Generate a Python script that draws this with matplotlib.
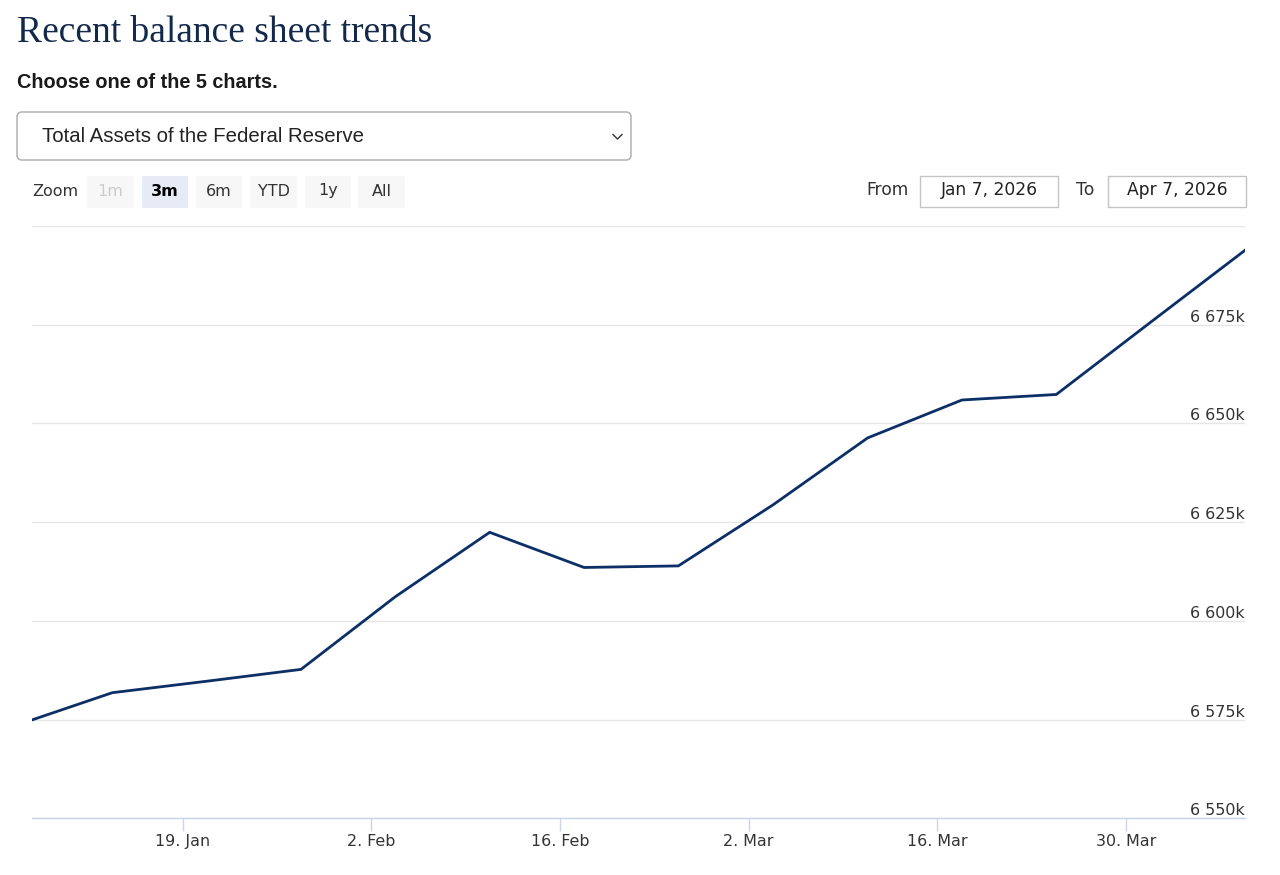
import pandas as pd
import matplotlib
matplotlib.use('Agg')
import matplotlib.pyplot as plt
import matplotlib.dates as mdates
from matplotlib.patches import FancyBboxPatch
from matplotlib.ticker import FuncFormatter

# weekly H.4.1 values, millions of dollars (Wednesday levels)
week_dates = ['2026-01-07', '2026-01-14', '2026-01-21', '2026-01-28',
              '2026-02-04', '2026-02-11', '2026-02-18', '2026-02-25',
              '2026-03-04', '2026-03-11', '2026-03-18', '2026-03-25',
              '2026-04-01', '2026-04-08']
total_assets = [6573700, 6581800, 6584700, 6587700,
                6606100, 6622400, 6613500, 6613900,
                6629300, 6646300, 6655900, 6657300,
                6675600, 6693800]
y_ticks = [6550000, 6575000, 6600000, 6625000, 6650000, 6675000, 6700000]
zoom_labels = ['1m', '3m', '6m', 'YTD', '1y', 'All']
from_label = 'Jan 7, 2026'
to_label = 'Apr 7, 2026'

# timestamps are midnight UTC, chart shows them in US Eastern time
dates = (pd.to_datetime(week_dates).tz_localize('UTC')
         .tz_convert('America/New_York').tz_localize(None))

W, H = 1280, 875
fig = plt.figure(figsize=(W / 100, H / 100), dpi=100)

# overlay in pixel coords for the page furniture
ui = fig.add_axes([0, 0, 1, 1], zorder=0)
ui.set_xlim(0, W)
ui.set_ylim(H, 0)
ui.axis('off')

ui.text(17, 42, 'Recent balance sheet trends', family='Liberation Serif',
        fontsize=27, color='#13294b', va='baseline')
ui.text(17, 82, 'Choose one of the 5 charts.', family='Liberation Sans',
        fontsize=14.3, weight='bold', color='#1a1a1a', va='center')

ui.add_patch(FancyBboxPatch((17, 112), 614, 48, boxstyle='round,pad=0,rounding_size=5',
                            fc='white', ec='#b8b8b8', lw=1.2))
ui.text(42, 137, 'Total Assets of the Federal Reserve', family='Liberation Sans',
        fontsize=14.7, color='#222222', va='center')
ui.plot([613, 617.5, 622], [134.5, 139, 134.5], color='#333333', lw=1)

ui.text(32, 191, 'Zoom', fontsize=11.5, color='#333333', va='center')
btn_x = [87, 142, 196, 250, 305, 358]
btn_w = [47, 46, 46, 47, 46, 47]
for lab, bx, bw in zip(zoom_labels, btn_x, btn_w):
    fc = '#e6ebf5' if lab == '3m' else '#f7f7f7'
    ui.add_patch(FancyBboxPatch((bx, 176), bw, 32, boxstyle='round,pad=0,rounding_size=2',
                                fc=fc, ec='none'))
    col = '#cccccc' if lab == '1m' else ('#000000' if lab == '3m' else '#333333')
    ui.text(bx + bw / 2, 191, lab, fontsize=11.5, color=col, ha='center', va='center',
            weight='bold' if lab == '3m' else 'normal')

ui.text(866, 190, 'From', fontsize=12.3, color='#333333', va='center')
ui.text(1076, 190, 'To', fontsize=12.3, color='#333333', va='center')
for bx, lab in [(920, from_label), (1108, to_label)]:
    ui.add_patch(plt.Rectangle((bx, 176), 138, 31, fc='white', ec='#c4c4c4', lw=1))
    ui.text(bx + 69, 190, lab, fontsize=12.3, color='#222222', ha='center', va='center')

# chart
ax = fig.add_axes([32 / W, 1 - 818.3 / H, (1245 - 32) / W, (818.3 - 225.8) / H], zorder=1)
ax.patch.set_alpha(0)
ax.plot(dates, total_assets, color='#0b2f66', lw=2.0, solid_joinstyle='miter')

ax.set_xlim(dates[-1] - pd.DateOffset(months=3), dates[-1])
ax.set_ylim(y_ticks[0], y_ticks[-1])

ax.set_yticks(y_ticks)
ax.yaxis.tick_right()
ax.yaxis.set_major_formatter(FuncFormatter(
    lambda v, p: '' if v >= y_ticks[-1] else f'{int(v // 1000000)} {int(v // 1000 % 1000):03d}k'))
ax.tick_params(axis='y', length=0, pad=0, labelsize=11.4, labelcolor='#333333')
for lab in ax.get_yticklabels():
    lab.set_horizontalalignment('right')
    lab.set_verticalalignment('bottom')
ax.grid(axis='y', color='#e6e6e6', lw=1)

ax.set_xticks(pd.to_datetime(['2026-01-19', '2026-02-02', '2026-02-16',
                              '2026-03-02', '2026-03-16', '2026-03-30']))
ax.xaxis.set_major_formatter(mdates.DateFormatter('%-d. %b'))
ax.tick_params(axis='x', length=9, width=1, color='#ccd6eb', pad=2,
               labelsize=11.4, labelcolor='#333333')

for s in ['top', 'left', 'right']:
    ax.spines[s].set_visible(False)
ax.spines['bottom'].set_color('#ccd6eb')
ax.spines['bottom'].set_linewidth(1)

fig.savefig('out.png', dpi=100)
